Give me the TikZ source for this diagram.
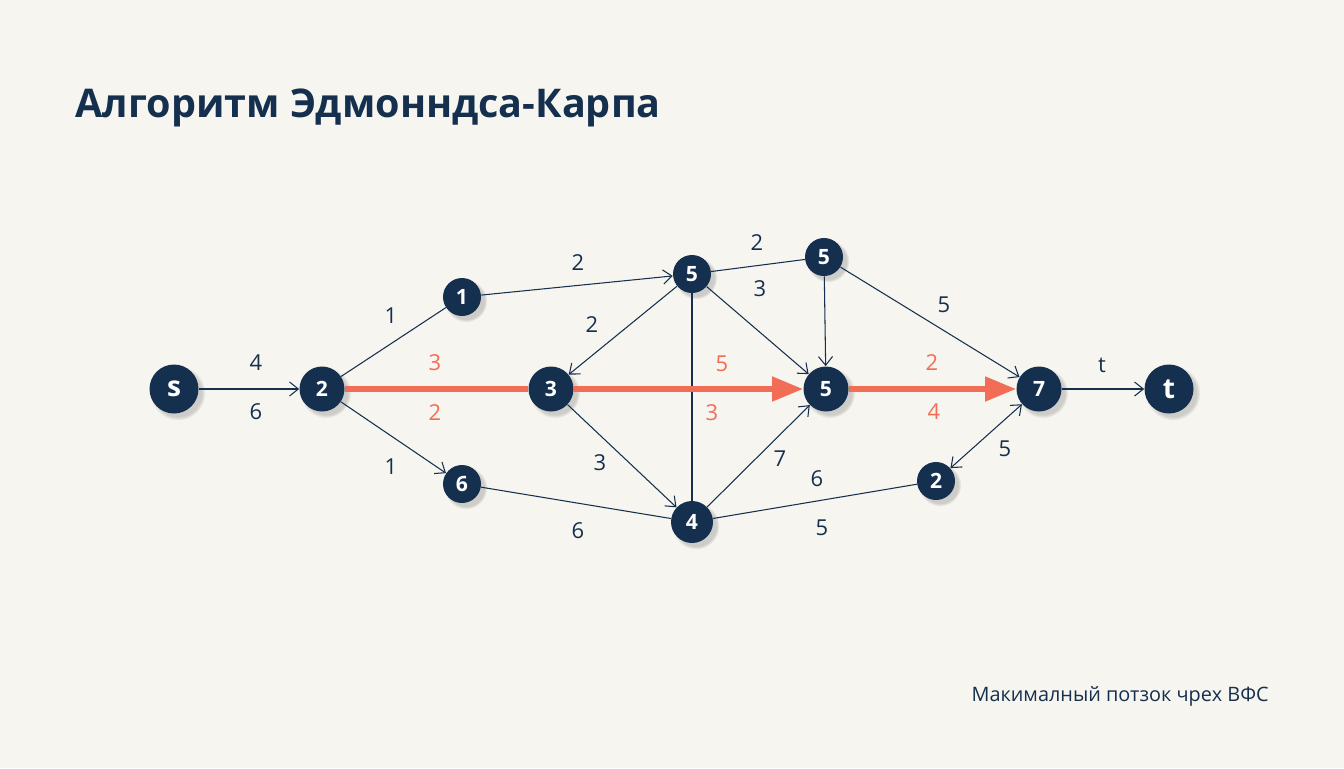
\documentclass[tikz,border=0pt]{standalone}
\usepackage{fontspec}
\setmainfont{Open Sans}
\usetikzlibrary{arrows.meta, shadows}
\definecolor{navy}{HTML}{15304F}
\definecolor{paper}{HTML}{F7F5EF}
\definecolor{pathred}{HTML}{F26D55}
\tikzset{
  % Set arrowhead
  >={Straight Barb[length=5pt, width=8pt]},
  % Vertex
  vert/.style={fill=navy, shape=circle, inner sep=0pt, text=white,
    font=\bfseries\fontsize{12}{12}\selectfont,
    circular drop shadow={shadow xshift=0.07cm, shadow yshift=-0.07cm,
      shadow scale=1.12, opacity=0.35}},
  % Source and sink
  evert/.style={vert, minimum size=0.98cm, font=\bfseries\fontsize{16}{16}\selectfont},
  % Large vertex
  bvert/.style={vert, minimum size=0.9cm},
  % Small vertex
  svert/.style={vert, minimum size=0.76cm},
  % Capacity labels
  wlabel/.style={text=navy, font=\fontsize{12.5}{12.5}\selectfont},
  flabel/.style={wlabel, text=pathred},
  % Connectors
  edge/.style={navy, line width=0.6pt},
  flow/.style={pathred, line width=3.4pt},
  flow->/.style={flow, -{Triangle[length=0.62cm, width=0.47cm]}},
}
\begin{document}
\begin{tikzpicture}[x=0.02cm, y=-0.02cm]
  \fill[paper] (0,0) rectangle (1344,768);

  \node[anchor=base west, inner sep=0pt, text=navy, font=\bfseries\fontsize{22.5}{22.5}\selectfont]
    (title) at (75,117) {Алгоритм Эдмонндса-Карпа};
  \node[anchor=base east, inner sep=0pt, text=navy, font=\fontsize{11.3}{11.3}\selectfont]
    (note) at (1269,701) {Макималный потзок чрех ВФС};

  % vertices
  \node[evert] (s) at (174,389) {s};
  \node[bvert] (v2) at (322,389) {2};
  \node[svert] (v1) at (462,297) {1};
  \node[svert] (v6) at (462,484) {6};
  \node[bvert] (v3) at (551,389) {3};
  \node[svert] (v5a) at (692,274) {5};
  \node[bvert, minimum size=0.84cm] (v4) at (692,522) {4};
  \node[svert] (v5b) at (824,257) {5};
  \node[bvert] (v5c) at (826,389) {5};
  \node[bvert] (v7) at (1039,389) {7};
  \node[svert] (v2b) at (936,481) {2};
  \node[evert] (t) at (1169,389) {t};

  % thin edges
  \draw[edge, ->] (s) -- (v2);
  \draw[edge] (v2) -- (v1);
  \draw[edge, ->] (v2) -- (v6);
  \draw[edge, ->] (v1) -- (v5a);
  \draw[edge, ->] (v5a) -- (v3);
  \draw[edge] (v5a) -- (v5b);
  \draw[edge, ->] (v5a) -- (v5c);
  \draw[edge] (v5a) -- (v4);
  \draw[edge, ->] (v5b) -- (v5c);
  \draw[edge, ->] (v5b) -- (v7);
  \draw[edge, ->] (v3) -- (v4);
  \draw[edge] (v6) -- (v4);
  \draw[edge, ->] (v4) -- (v5c);
  \draw[edge] (v4) -- (v2b);
  \draw[edge, <->] (v2b) -- (v7);
  \draw[edge, ->] (v7) -- (t);

  % augmenting path
  \draw[flow] (v2) -- (v3);
  \draw[flow->] (v3) -- (v5c);
  \draw[flow->] (v5c) -- (v7);

  % capacities
  \node[wlabel] (c1) at (256,363) {4};
  \node[wlabel] (c2) at (256,412) {6};
  \node[wlabel] (c3) at (391,316) {1};
  \node[wlabel] (c4) at (391,467) {1};
  \node[wlabel] (c5) at (578,263) {2};
  \node[wlabel] (c6) at (592,325) {2};
  \node[wlabel] (c7) at (757,243) {2};
  \node[wlabel] (c8) at (760,289) {3};
  \node[wlabel] (c9) at (944,305) {5};
  \node[wlabel] (c10) at (600,463) {3};
  \node[wlabel] (c11) at (578,531) {6};
  \node[wlabel] (c12) at (780,459) {7};
  \node[wlabel] (c13) at (817,479) {6};
  \node[wlabel] (c14) at (822,528) {5};
  \node[wlabel] (c15) at (1005,449) {5};
  \node[wlabel] (c16) at (1102,365) {t};

  % flows on the path
  \node[flabel] (f1) at (435,363) {3};
  \node[flabel] (f2) at (435,413) {2};
  \node[flabel] (f3) at (722,364) {5};
  \node[flabel] (f4) at (712,413) {3};
  \node[flabel] (f5) at (932,363) {2};
  \node[flabel] (f6) at (934,412) {4};
\end{tikzpicture}
\end{document}
